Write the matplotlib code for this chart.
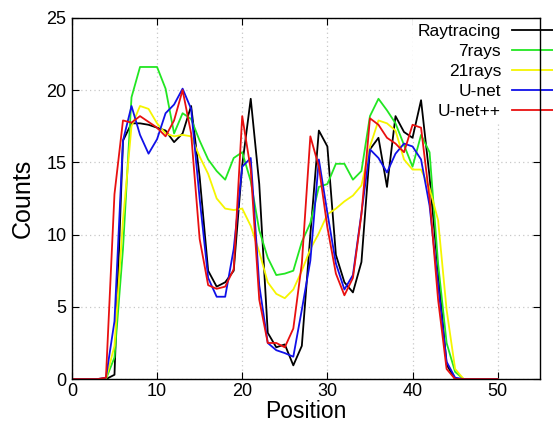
import numpy as np
import matplotlib
matplotlib.use("Agg")
import matplotlib.pyplot as plt

plt.rcParams['font.family'] = ['Liberation Sans', 'DejaVu Sans']

position = list(range(51))

raytracing = [0, 0, 0, 0, 0, 0.3, 16.5, 17.7, 17.7, 17.6, 17.4, 17.2, 16.4, 17.0, 18.9,
              14.0, 7.5, 6.4, 6.7, 7.5, 14.8, 19.4, 13.5, 3.2, 2.2, 2.4, 0.95, 2.3, 10.0,
              17.2, 16.1, 8.6, 6.7, 6.0, 8.1, 15.9, 16.7, 13.3, 18.2, 17.1, 16.7, 19.3,
              14.0, 7.5, 1.0, 0, 0, 0, 0, 0, 0]
rays7 = [0, 0, 0, 0, 0, 1.5, 9.0, 19.5, 21.6, 21.6, 21.6, 20.1, 17.0, 18.4, 18.0,
         16.5, 15.2, 14.4, 13.8, 15.3, 15.7, 13.7, 10.3, 8.4, 7.2, 7.3, 7.5, 9.5, 10.8,
         13.3, 13.5, 14.9, 14.9, 13.8, 14.4, 18.2, 19.4, 18.6, 17.7, 16.2, 14.7, 16.9,
         15.7, 8.0, 2.5, 0.5, 0, 0, 0, 0, 0]
rays21 = [0, 0, 0, 0, 0, 2.3, 11.0, 17.5, 18.9, 18.7, 17.7, 17.0, 16.8, 16.9, 16.8,
          15.4, 14.2, 12.5, 11.8, 11.7, 11.8, 10.6, 8.8, 6.7, 5.9, 5.6, 6.2, 7.5, 9.0,
          10.1, 11.4, 11.8, 12.3, 12.7, 13.4, 16.1, 17.9, 17.7, 17.2, 15.2, 14.5, 14.5,
          13.2, 11.0, 4.8, 0.7, 0, 0, 0, 0, 0]
unet = [0, 0, 0, 0, 0.1, 4.0, 16.5, 18.9, 16.9, 15.6, 16.6, 18.4, 19.0, 20.1, 18.7,
        12.5, 7.0, 5.7, 5.7, 9.0, 14.7, 15.3, 6.5, 2.5, 2.0, 1.8, 1.55, 4.8, 8.2,
        15.2, 11.5, 8.0, 6.2, 7.2, 11.5, 15.9, 15.3, 14.3, 15.6, 16.3, 16.1, 15.2,
        12.0, 6.5, 1.2, 0.1, 0, 0, 0, 0, 0]
unetpp = [0, 0, 0, 0, 0.1, 12.8, 17.9, 17.75, 18.2, 17.8, 17.4, 16.8, 17.9, 20.0, 17.0,
          9.7, 6.5, 6.25, 6.4, 7.6, 18.2, 14.5, 5.5, 2.5, 2.5, 2.2, 3.5, 8.0, 16.8,
          14.7, 10.5, 7.3, 5.8, 7.0, 11.4, 18.05, 17.6, 16.7, 16.3, 15.7, 17.6, 17.4,
          12.5, 5.5, 0.7, 0, 0, 0, 0, 0, 0]

series = [("Raytracing", raytracing, "black"),
          ("7rays", rays7, "#22e622"),
          ("21rays", rays21, "#f5f500"),
          ("U-net", unet, "#1010e8"),
          ("U-net++", unetpp, "#e81010")]

fig = plt.figure(figsize=(5.53, 4.25), dpi=100)
ax = fig.add_axes([0.130, 0.108, 0.847, 0.850])

for name, vals, col in series:
    ax.plot(position, vals, color=col, linewidth=1.3, label=name)

ax.set_xlim(0, 55)
ax.set_ylim(0, 25)
ax.set_xticks([0, 10, 20, 30, 40, 50])
ax.set_yticks([0, 5, 10, 15, 20, 25])
ax.tick_params(direction='in', top=True, right=True, labelsize=13, length=5, pad=4)
ax.tick_params(axis='x', pad=3)
ax.grid(True, linestyle=(0, (1, 2.5)), color='#c8c8c8', linewidth=0.9)
for s in ax.spines.values():
    s.set_linewidth(1.0)

ax.set_xlabel("Position", fontsize=16.5, labelpad=-0.5)
ax.set_ylabel("Counts", fontsize=18, labelpad=8)

leg = ax.legend(loc='upper right', bbox_to_anchor=(1.06, 0.957), bbox_transform=fig.transFigure,
                markerfirst=False, frameon=True, facecolor='white', edgecolor='none',
                framealpha=1, fancybox=False, fontsize=12.5, handlelength=4.0,
                handletextpad=0.6, labelspacing=0.28, borderpad=0.3, borderaxespad=0)
leg.set_zorder(1.8)
for t in leg.get_texts():
    t.set_ha('right')

fig.savefig("out.png", dpi=100)
